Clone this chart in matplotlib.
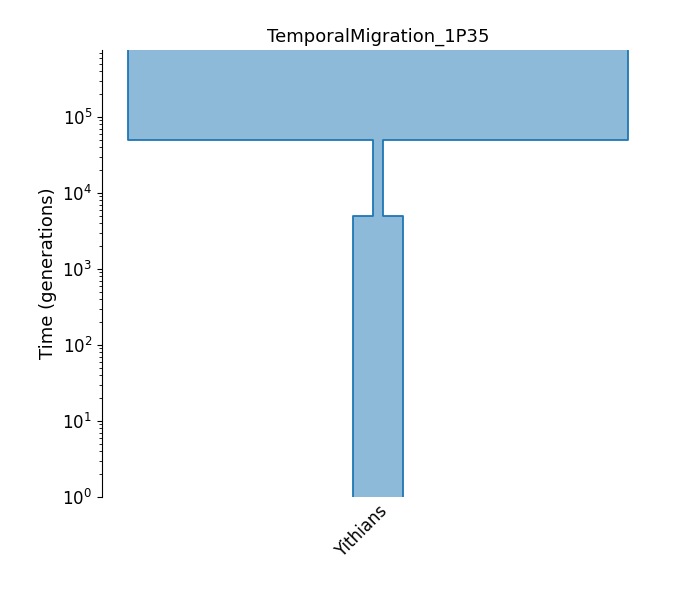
import matplotlib
matplotlib.use("Agg")
import matplotlib.pyplot as plt

deme = "Yithians"
# epochs: (start_time, end_time, size)
epoch_start = [1e7, 5e4, 5e3]
epoch_end = [5e4, 5e3, 1.0]
epoch_size = [50000, 1000, 5000]
title = "TemporalMigration_1P35"

fig = plt.figure(figsize=(6.75, 6), dpi=100)
ax = fig.add_axes([0.151, 0.1717, 0.818, 0.745])
ax.set_yscale("log")

left_x, left_y = [], []
for s, e, n in zip(epoch_start, epoch_end, epoch_size):
    left_x += [-n / 2, -n / 2]
    left_y += [s, e]
right_x = [-x for x in left_x[::-1]]
right_y = left_y[::-1]
xs = left_x + right_x
ys = left_y + right_y
ax.fill(xs, ys, color="tab:blue", alpha=0.5, lw=0)
ax.plot(left_x, left_y, color="tab:blue", lw=1.3)
ax.plot(right_x, right_y, color="tab:blue", lw=1.3)

ax.set_xlim(-27600, 27600)
ax.set_ylim(1, 7.6e5)
ax.set_xticks([0])
ax.set_xticklabels([deme], rotation=45, ha="right", rotation_mode="anchor", fontsize=12)
ax.tick_params(axis="x", length=0)
ax.tick_params(axis="y", labelsize=12)
ax.set_ylabel("Time (generations)", fontsize=13)
ax.set_title(title, fontsize=13)
for sp in ["top", "right", "bottom"]:
    ax.spines[sp].set_visible(False)
fig.savefig("out.png")
